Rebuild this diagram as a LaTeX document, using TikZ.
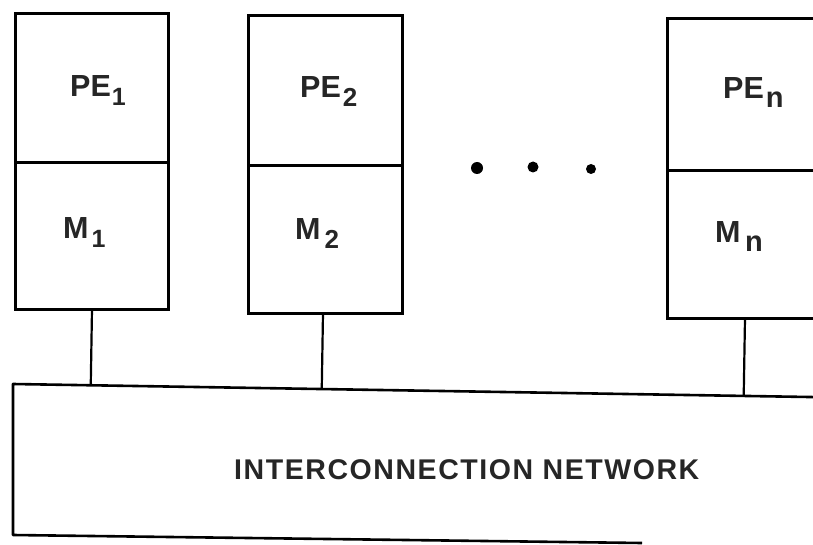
\documentclass[tikz,border=0pt]{standalone}
\usepackage{fontspec}
\setmainfont{Liberation Sans}
\usetikzlibrary{calc}

% label with a lowered index, e.g. PE_1
\newcommand\idxlab[4]{#1\kern#3\raisebox{-8.5pt}{\fontsize{#4}{#4}\selectfont #2}}

\begin{document}
\begin{tikzpicture}[x=1pt,y=-1pt,
  unitbox/.style={draw, line width=3pt, rectangle, inner sep=0pt, outer sep=0pt, anchor=north west},
  lab/.style={anchor=base west, inner sep=0pt, text=black!85, font=\bfseries\fontsize{30.5}{30.5}\selectfont},
  netline/.style={line width=2.6pt, line join=round},
  link/.style={line width=2.2pt},
  dot/.style={circle, fill, inner sep=0pt}]

\fill[white] (0,0) rectangle (813,545);
\clip (0,0) rectangle (813,545);

% processing elements with their memories
\node[unitbox, minimum width=153pt, minimum height=149pt] (pe1) at (15,14) {};
\node[unitbox, minimum width=153pt, minimum height=146pt] (m1) at (15,163) {};
\node[unitbox, minimum width=154pt, minimum height=150pt] (pe2) at (248,16) {};
\node[unitbox, minimum width=154pt, minimum height=147pt] (m2) at (248,166) {};
\node[unitbox, minimum width=170pt, minimum height=152pt] (pen) at (667,19) {};
\node[unitbox, minimum width=170pt, minimum height=147pt] (mn) at (667,171) {};

\node[lab] (tpe1) at (70,97)  {\idxlab{PE}{1}{1pt}{25}};
\node[lab] (tm1)  at (63,239) {\idxlab{M}{1}{3pt}{25}};
\node[lab] (tpe2) at (300,98) {\idxlab{PE}{2}{2pt}{26}};
\node[lab] (tm2)  at (295,240){\idxlab{M}{2}{4pt}{26}};
\node[lab] (tpen) at (723,99) {\idxlab{PE}{n}{2pt}{29}};
\node[lab] (tmn)  at (715,243){\idxlab{M}{n}{4.5pt}{29}};

% ellipsis between the units
\node[dot, minimum size=12pt] (d1) at (477,168) {};
\node[dot, minimum size=11pt] (d2) at (533,167) {};
\node[dot, minimum size=10pt] (d3) at (591,169) {};

% interconnection network
\coordinate (nw) at (13,384);
\coordinate (ne) at (840,397.5);
\coordinate (sw) at (13,535);
\coordinate (se) at (642,543);
\draw[netline] (ne) -- (nw) -- (sw) -- (se);
\node[anchor=base west, inner sep=0pt, text=black!85,
      font=\bfseries\fontsize{28.5}{28.5}\selectfont\addfontfeatures{LetterSpace=5.5}] (net) at (234,479)
      {INTERCONNECTION NETWORK};

% links from the memories to the network
\coordinate (a1) at ($(m1.south)+(0.5,0)$);
\coordinate (a2) at ($(m2.south)+(-2,0)$);
\coordinate (an) at ($(mn.south)+(-7,0)$);
\draw[link] (a1) -- ($(nw)!(a1)!(ne)$);
\draw[link] (a2) -- ($(nw)!(a2)!(ne)$);
\draw[link] (an) -- ($(nw)!(an)!(ne)$);
\end{tikzpicture}
\end{document}
